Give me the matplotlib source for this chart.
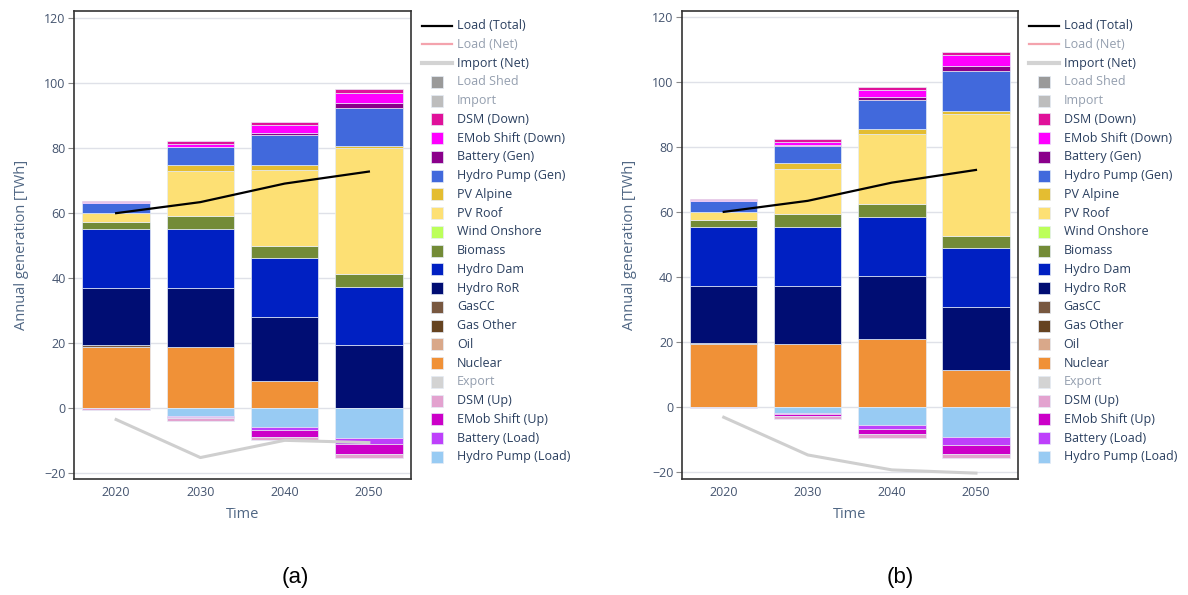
import matplotlib.pyplot as plt
from matplotlib.lines import Line2D
from matplotlib.patches import Rectangle
import numpy as np

years = ["2020", "2030", "2040", "2050"]

# positive side, bottom to top (values in TWh)
nuclear_a = [18.9, 18.9, 8.5, 0.0]
nuclear_b = [19.1, 19.1, 20.8, 11.3]
oil_a = [0.0, 0.0, 0.0, 0.0]
oil_b = [0.0, 0.0, 0.0, 0.0]
gas_other_a = [0.0, 0.0, 0.0, 0.0]
gas_other_b = [0.0, 0.0, 0.0, 0.0]
gascc_a = [0.6, 0.0, 0.0, 0.0]
gascc_b = [0.6, 0.0, 0.0, 0.0]
hydro_ror_a = [17.5, 18.1, 19.5, 19.3]
hydro_ror_b = [17.5, 18.0, 19.5, 19.2]
hydro_dam_a = [18.2, 18.1, 18.1, 18.0]
hydro_dam_b = [18.1, 18.1, 18.1, 18.2]
biomass_a = [2.1, 4.1, 3.9, 4.0]
biomass_b = [2.0, 4.0, 4.0, 3.9]
wind_a = [0.0, 0.0, 0.0, 0.0]
wind_b = [0.0, 0.0, 0.0, 0.0]
pv_roof_a = [2.7, 13.7, 23.2, 38.7]
pv_roof_b = [2.7, 13.8, 21.4, 37.4]
pv_alpine_a = [0.0, 1.9, 1.6, 0.8]
pv_alpine_b = [0.0, 1.8, 1.6, 1.0]
pump_gen_a = [3.0, 5.5, 9.1, 11.5]
pump_gen_b = [3.2, 5.5, 9.0, 12.1]
battery_gen_a = [0.0, 0.1, 0.8, 1.5]
battery_gen_b = [0.0, 0.1, 0.7, 1.7]
emob_down_a = [0.3, 1.0, 2.4, 3.3]
emob_down_b = [0.3, 1.1, 2.3, 3.5]
dsm_down_a = [0.5, 0.7, 0.8, 1.1]
dsm_down_b = [0.5, 0.7, 0.9, 0.8]

# negative side, from zero downward
pump_load_a = [0.0, 2.3, 5.8, 9.2]
pump_load_b = [0.0, 2.0, 5.6, 9.5]
battery_load_a = [0.0, 0.3, 1.0, 1.8]
battery_load_b = [0.0, 0.3, 1.2, 2.2]
emob_up_a = [0.0, 0.5, 2.0, 3.1]
emob_up_b = [0.0, 0.5, 1.8, 2.8]
dsm_up_a = [0.6, 0.7, 1.0, 1.2]
dsm_up_b = [0.4, 1.0, 1.0, 1.3]

load_total_a = [60.0, 63.4, 69.1, 72.8]
load_total_b = [59.9, 63.3, 68.9, 72.8]
import_net_a = [-3.5, -15.2, -9.9, -10.6]
import_net_b = [-3.3, -14.9, -19.5, -20.5]

colors = {
    "Load Shed": "#9a9a9a", "Import": "#bdbdbd", "DSM (Down)": "#e0119a",
    "EMob Shift (Down)": "#ff00ff", "Battery (Gen)": "#8b008b",
    "Hydro Pump (Gen)": "#4169dc", "PV Alpine": "#e4bd31", "PV Roof": "#fde074",
    "Wind Onshore": "#bcff5a", "Biomass": "#738b37", "Hydro Dam": "#0020c2",
    "Hydro RoR": "#000d73", "GasCC": "#785840", "Gas Other": "#654321",
    "Oil": "#d9a88a", "Nuclear": "#f09137", "Export": "#d3d3d3",
    "DSM (Up)": "#e3a2cf", "EMob Shift (Up)": "#cc00c8",
    "Battery (Load)": "#be40fb", "Hydro Pump (Load)": "#98cbf3",
}

scen = {
    "a": dict(pos=[("Nuclear", nuclear_a), ("Oil", oil_a), ("Gas Other", gas_other_a),
                   ("GasCC", gascc_a), ("Hydro RoR", hydro_ror_a), ("Hydro Dam", hydro_dam_a),
                   ("Biomass", biomass_a), ("Wind Onshore", wind_a), ("PV Roof", pv_roof_a),
                   ("PV Alpine", pv_alpine_a), ("Hydro Pump (Gen)", pump_gen_a),
                   ("Battery (Gen)", battery_gen_a), ("EMob Shift (Down)", emob_down_a),
                   ("DSM (Down)", dsm_down_a)],
              neg=[("Hydro Pump (Load)", pump_load_a), ("Battery (Load)", battery_load_a),
                   ("EMob Shift (Up)", emob_up_a), ("DSM (Up)", dsm_up_a)],
              load=load_total_a, imp=import_net_a, ylim=(-21.8, 122.3)),
    "b": dict(pos=[("Nuclear", nuclear_b), ("Oil", oil_b), ("Gas Other", gas_other_b),
                   ("GasCC", gascc_b), ("Hydro RoR", hydro_ror_b), ("Hydro Dam", hydro_dam_b),
                   ("Biomass", biomass_b), ("Wind Onshore", wind_b), ("PV Roof", pv_roof_b),
                   ("PV Alpine", pv_alpine_b), ("Hydro Pump (Gen)", pump_gen_b),
                   ("Battery (Gen)", battery_gen_b), ("EMob Shift (Down)", emob_down_b),
                   ("DSM (Down)", dsm_down_b)],
              neg=[("Hydro Pump (Load)", pump_load_b), ("Battery (Load)", battery_load_b),
                   ("EMob Shift (Up)", emob_up_b), ("DSM (Up)", dsm_up_b)],
              load=load_total_b, imp=import_net_b, ylim=(-22.3, 121.8)),
}

legend_entries = [
    ("Load (Total)", "line", "black", True), ("Load (Net)", "line", "#f4a3ad", False),
    ("Import (Net)", "line", "#d3d3d3", True), ("Load Shed", "box", None, False),
    ("Import", "box", None, False), ("DSM (Down)", "box", None, True),
    ("EMob Shift (Down)", "box", None, True), ("Battery (Gen)", "box", None, True),
    ("Hydro Pump (Gen)", "box", None, True), ("PV Alpine", "box", None, True),
    ("PV Roof", "box", None, True), ("Wind Onshore", "box", None, True),
    ("Biomass", "box", None, True), ("Hydro Dam", "box", None, True),
    ("Hydro RoR", "box", None, True), ("GasCC", "box", None, True),
    ("Gas Other", "box", None, True), ("Oil", "box", None, True),
    ("Nuclear", "box", None, True), ("Export", "box", None, False),
    ("DSM (Up)", "box", None, True), ("EMob Shift (Up)", "box", None, True),
    ("Battery (Load)", "box", None, True), ("Hydro Pump (Load)", "box", None, True),
]

plt.rcParams["font.family"] = ["Open Sans", "DejaVu Sans"]
W, H = 1188, 595
fig = plt.figure(figsize=(W / 100, H / 100), dpi=100)
txt = "#2a3f5f"


def fx(px):
    return px / W


def fy(py):
    return 1 - py / H


def draw_panel(key, left, right, leg_x, cap_x):
    d = scen[key]
    ax = fig.add_axes([fx(left), fy(479), fx(right - left), (479 - 10.7) / H])
    x = np.arange(len(years))
    bottom = np.zeros(len(years))
    for name, vals in d["pos"]:
        v = np.array(vals)
        ax.bar(x, v, 0.8, bottom=bottom, color=colors[name],
               edgecolor="#e5ecf6", linewidth=0.5, zorder=2)
        bottom += v
    bottom = np.zeros(len(years))
    for name, vals in d["neg"]:
        v = -np.array(vals)
        ax.bar(x, v, 0.8, bottom=bottom, color=colors[name],
               edgecolor="#e5ecf6", linewidth=0.5, zorder=2)
        bottom += v
    ax.plot(x, d["imp"], color="#cfcfcf", lw=2.2, zorder=3)
    ax.plot(x, d["load"], color="black", lw=1.6, zorder=4)

    ax.set_xlim(-0.5, 3.5)
    ax.set_ylim(*d["ylim"])
    ax.set_xticks(x)
    ax.set_xticklabels(years)
    ax.set_yticks(range(-20, 121, 20))
    ax.grid(True, axis="y", color="#dfe1e8", lw=1.0, zorder=0)
    ax.set_axisbelow(True)
    ax.tick_params(axis="x", length=0, pad=5, labelsize=9, labelcolor="#44546f")
    ax.tick_params(axis="y", length=4, color="#888888", pad=2, labelsize=9,
                   labelcolor="#44546f")
    for s in ax.spines.values():
        s.set_color("#333333")
        s.set_linewidth(1.2)
    ax.set_xlabel("Time", fontsize=10.5, color="#506784", labelpad=6)
    ax.set_ylabel("Annual generation [TWh]", fontsize=10.5, color="#506784",
                  labelpad=11)

    # legend
    for i, (label, kind, col, vis) in enumerate(legend_entries):
        yy = 25.7 + i * 18.75
        alpha = 1.0 if vis else 0.5
        if kind == "line":
            lw = 3.0 if label == "Import (Net)" else 1.6
            fig.add_artist(Line2D([fx(leg_x), fx(leg_x + 30)], [fy(yy), fy(yy)],
                                  color=col, lw=lw))
        else:
            fig.add_artist(Rectangle((fx(leg_x + 9), fy(yy + 6)), fx(12), 12 / H,
                                     facecolor=colors[label], edgecolor="#e5ecf6",
                                     lw=0.5))
        fig.text(fx(leg_x + 35), fy(yy), label, fontsize=9, color=txt,
                 alpha=alpha, va="center", ha="left")

    fig.text(fx(cap_x), fy(578), "(%s)" % key, fontsize=16,
             family="Liberation Sans", ha="center", va="center")


draw_panel("a", 74, 411, 422, 295)
draw_panel("b", 681.7, 1018, 1028.5, 900)

fig.savefig("out.png", dpi=100)
